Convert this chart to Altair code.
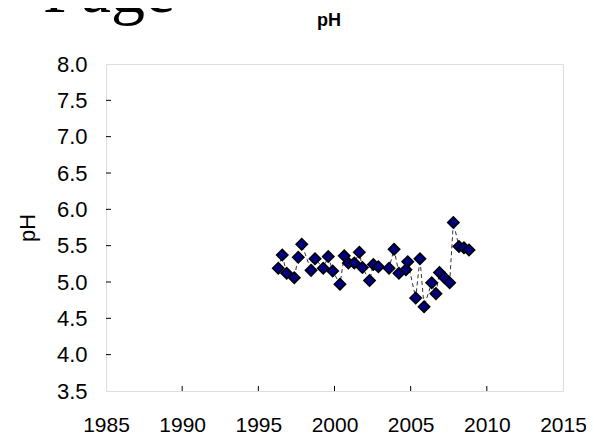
import altair as alt
import pandas as pd

years = [1996.31, 1996.57, 1996.86, 1997.36, 1997.62, 1997.85, 1998.46, 1998.72,
         1999.26, 1999.59, 1999.88, 2000.36, 2000.64, 2000.91, 2001.30, 2001.63,
         2001.83, 2002.30, 2002.55, 2002.88, 2003.58, 2003.91, 2004.23, 2004.69,
         2004.81, 2005.33, 2005.61, 2005.88, 2006.38, 2006.66, 2006.89, 2007.22,
         2007.56, 2007.80, 2008.17, 2008.50, 2008.83]
ph = [5.19, 5.37, 5.12, 5.06, 5.34, 5.52, 5.16, 5.32,
      5.19, 5.35, 5.15, 4.97, 5.36, 5.26, 5.26, 5.41,
      5.20, 5.02, 5.24, 5.21, 5.19, 5.45, 5.12, 5.17,
      5.28, 4.78, 5.32, 4.66, 4.99, 4.84, 5.13, 5.06,
      4.99, 5.82, 5.49, 5.47, 5.44]
x_ticks = [1985, 1990, 1995, 2000, 2005, 2010, 2015]
y_ticks = [3.5, 4.0, 4.5, 5.0, 5.5, 6.0, 6.5, 7.0, 7.5, 8.0]
chart_title = "pH"
y_title = "pH"
stray_text = "Page"

df = pd.DataFrame({"year": years, "ph": ph, "order": list(range(len(years)))})

FONT = "Liberation Sans"
xs = alt.Scale(domain=[1985, 2015], nice=False, zero=False)
ys = alt.Scale(domain=[3.5, 8.0], nice=False, zero=False)


def x_axis():
    return alt.Axis(values=x_ticks, format="d", grid=False, domain=False, ticks=False,
                    labelFont=FONT, labelFontSize=21, labelColor="black",
                    labelBaseline="alphabetic", labelPadding=40,
                    labelOverlap=False, labelFlush=False, labelBound=False, title=None)


def y_axis():
    return alt.Axis(values=y_ticks, format=".1f", grid=False, domain=False, ticks=False,
                    labelFont=FONT, labelFontSize=22, labelColor="black",
                    labelPadding=19, labelOverlap=False, labelFlush=False, labelBound=False,
                    title=y_title, titleFont=FONT, titleFontSize=22,
                    titleFontWeight="normal", titleColor="black", titlePadding=17)


base = alt.Chart(df)

line = base.mark_line(color="#333333", strokeWidth=1, strokeDash=[4, 3]).encode(
    x=alt.X("year:Q", scale=xs, axis=x_axis()),
    y=alt.Y("ph:Q", scale=ys, axis=y_axis()),
    order="order:Q",
)

points = base.mark_point(shape="diamond", filled=True, fill="#000080", stroke="black",
                         strokeWidth=1.5, size=130, opacity=1).encode(
    x=alt.X("year:Q", scale=xs, axis=x_axis()),
    y=alt.Y("ph:Q", scale=ys, axis=y_axis()),
)

ytick_df = pd.DataFrame({"ph": y_ticks[1:-1]})
yticks = alt.Chart(ytick_df).mark_rule(color="black", strokeWidth=1).encode(
    y=alt.Y("ph:Q", scale=ys, axis=y_axis()), x=alt.value(0), x2=alt.value(5))

xtick_df = pd.DataFrame({"year": x_ticks[1:-1]})
xticks = alt.Chart(xtick_df).mark_rule(color="black", strokeWidth=1).encode(
    x=alt.X("year:Q", scale=xs, axis=x_axis()), y=alt.value(327), y2=alt.value(322))

stray = alt.Chart(pd.DataFrame({"t": [stray_text]})).mark_text(
    font="Liberation Serif", fontSize=68, align="left", baseline="alphabetic",
    color="black").encode(text="t:N", x=alt.value(-63), y=alt.value(-52))

title_txt = alt.Chart(pd.DataFrame({"t": [chart_title]})).mark_text(
    font=FONT, fontSize=18, fontWeight="bold", align="center", baseline="alphabetic",
    color="black").encode(text="t:N", x=alt.value(223), y=alt.value(-38))

chart = alt.layer(line, points, yticks, xticks, stray, title_txt).properties(
    width=457, height=327,
    autosize=alt.AutoSizeParams(type="none"),
    padding={"left": 98, "top": 56, "right": 23, "bottom": 43},
).configure_view(stroke="black", strokeWidth=1).configure(background="white")

chart.save("out.html", embed_options={"renderer": "svg", "actions": False})
